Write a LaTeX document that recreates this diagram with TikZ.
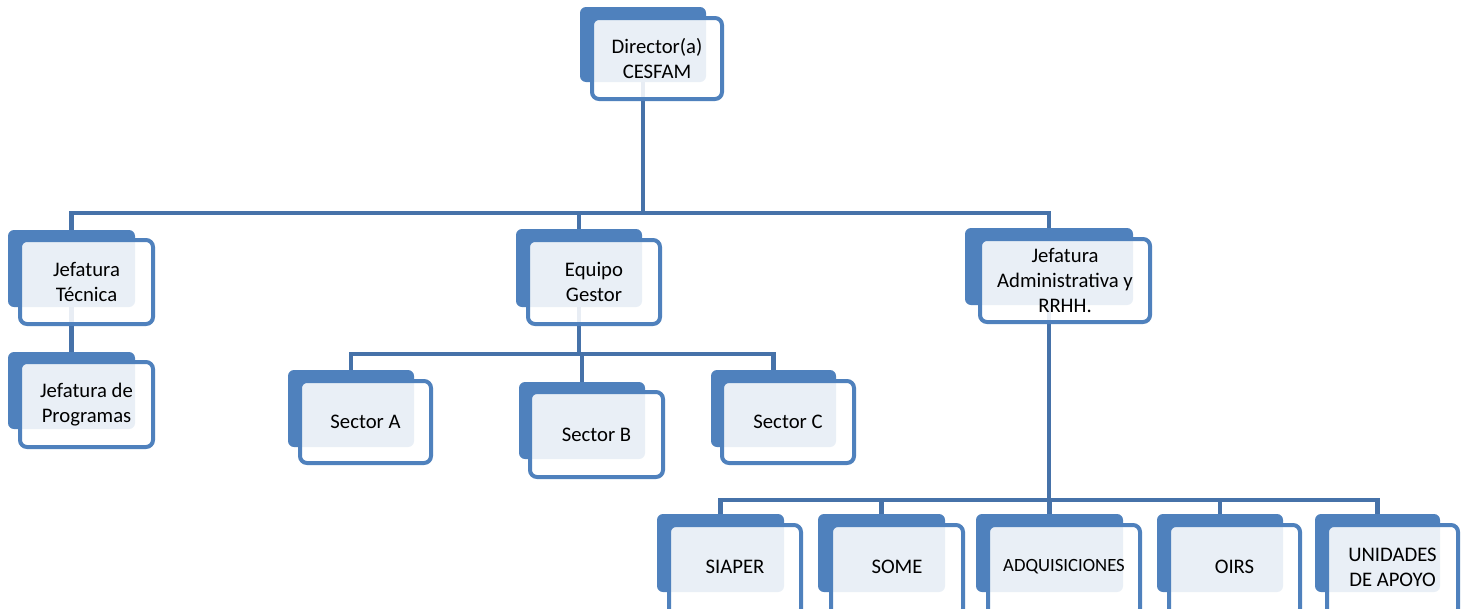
\documentclass[tikz,border=0pt]{standalone}
\usepackage{fontspec}
\setmainfont{Carlito}
\usetikzlibrary{backgrounds}
\pgfdeclarelayer{bottom}
\pgfsetlayers{bottom,background,main}
\definecolor{boxblue}{HTML}{4F81BD}
\definecolor{lineblue}{HTML}{4672A9}
\tikzset{
  backbox/.style={rectangle, rounded corners=6pt, fill=boxblue, draw=none, inner sep=0pt, outer sep=0pt},
  frontbox/.style={rectangle, rounded corners=7pt, draw=boxblue, line width=4pt, fill=white, fill opacity=0.88, text opacity=1, inner sep=0pt, outer sep=0pt, align=center, font=\fontsize{20.7}{25}\selectfont},
  smalltext/.style={font=\fontsize{18.7}{23}\selectfont},
  conn/.style={draw=lineblue, line width=4.5pt}
}
\newcommand\backbox[5]{\node[backbox, minimum width={#4-#2}, minimum height={#5-#3}] (#1) at ({(#2+#4)/2},{(#3+#5)/2}) {};}
\newcommand\frontbox[6]{\node[frontbox, minimum width={#4-#2-4}, minimum height={#5-#3-4}] (#1) at ({(#2+#4)/2},{(#3+#5)/2}) {#6};}
\newcommand\lowbox[6]{\node[frontbox, minimum width={#4-#2-4}, minimum height={#5-#3-4}] (#1) at ({(#2+#4)/2},{(#3+#5)/2}) {};
  \node[frontbox, draw=none, fill=none, minimum width={#4-#2-4}, minimum height={611-#3-4}] (#1t) at ({(#2+#4)/2},{(#3+611)/2}) {#6};}
\begin{document}
\begin{tikzpicture}[x=1pt, y=-1pt]
\useasboundingbox (0,0) rectangle (1469,608);
\begin{pgfonlayer}{bottom}
\fill[white] (0,0) rectangle (1469,608);
\end{pgfonlayer}
% Level 0
\backbox{dirb}{580}{7}{706}{82}
\frontbox{dir}{590}{16}{724}{101}{Director(a)\\CESFAM}
% Level 1
\backbox{jtb}{8}{230}{135}{307}
\frontbox{jt}{18}{238}{155}{326}{Jefatura\\Técnica}
\backbox{jpb}{8}{352}{135}{429}
\frontbox{jp}{18}{360}{155}{449}{Jefatura de\\Programas}
\backbox{egb}{516}{229}{642}{307}
\frontbox{eg}{526}{238}{662}{326}{Equipo\\Gestor}
\backbox{jab}{965}{228}{1133}{305}
\frontbox{ja}{978}{237}{1152}{324}{Jefatura\\Administrativa y\\RRHH.}
% Sectors
\backbox{sab}{288}{370}{414}{447}
\frontbox{sa}{298}{379}{433}{465}{Sector A}
\backbox{sbb}{519}{382}{645}{459}
\frontbox{sb}{528}{390}{665}{479}{Sector B}
\backbox{scb}{711}{370}{836}{447}
\frontbox{sc}{720}{379}{856}{465}{Sector C}
% Bottom row
\backbox{sib}{657}{514}{784}{592}
\lowbox{si}{667}{523}{803}{618}{SIAPER}
\backbox{sob}{818}{514}{945}{592}
\lowbox{so}{829}{523}{965}{618}{SOME}
\backbox{adb}{976}{514}{1123}{592}
\node[frontbox, minimum width={1142-986-4}, minimum height={618-523-4}] (ad) at ({(986+1142)/2},{(523+618)/2}) {};
\node[frontbox, smalltext, draw=none, fill=none] (adt) at ({(986+1142)/2},{(523+611)/2}) {ADQUISICIONES};
\backbox{oib}{1157}{514}{1283}{592}
\lowbox{oi}{1167}{523}{1302}{618}{OIRS}
\backbox{unb}{1315}{514}{1440}{592}
\lowbox{un}{1325}{523}{1460}{618}{UNIDADES\\DE APOYO}
% connectors
\coordinate (bar1) at (0,213);
\coordinate (bar2) at (0,354);
\coordinate (bar3) at (0,500);
\begin{pgfonlayer}{background}
\draw[conn] (dirb.center) -- (dirb.center |- bar1);
\draw[conn] (jtb.center) -- (jtb.center |- bar1) -- (jab.center |- bar1) -- (jab.center);
\draw[conn] (egb.center) -- (egb.center |- bar1);
\draw[conn] (jtb.center) -- (jpb.center);
\draw[conn] (egb.center) -- (egb.center |- bar2);
\draw[conn] (sab.center) -- (sab.center |- bar2) -- (scb.center |- bar2) -- (scb.center);
\draw[conn] (sbb.center |- bar2) -- (sbb.center);
\draw[conn] (jab.center) -- (jab.center |- bar3);
\draw[conn] (sib.center) -- (sib.center |- bar3) -- (unb.center |- bar3) -- (unb.center);
\draw[conn] (sob.center |- bar3) -- (sob.center);
\draw[conn] (adb.center |- bar3) -- (adb.center);
\draw[conn] (oib.center |- bar3) -- (oib.center);
\end{pgfonlayer}
\end{tikzpicture}
\end{document}
